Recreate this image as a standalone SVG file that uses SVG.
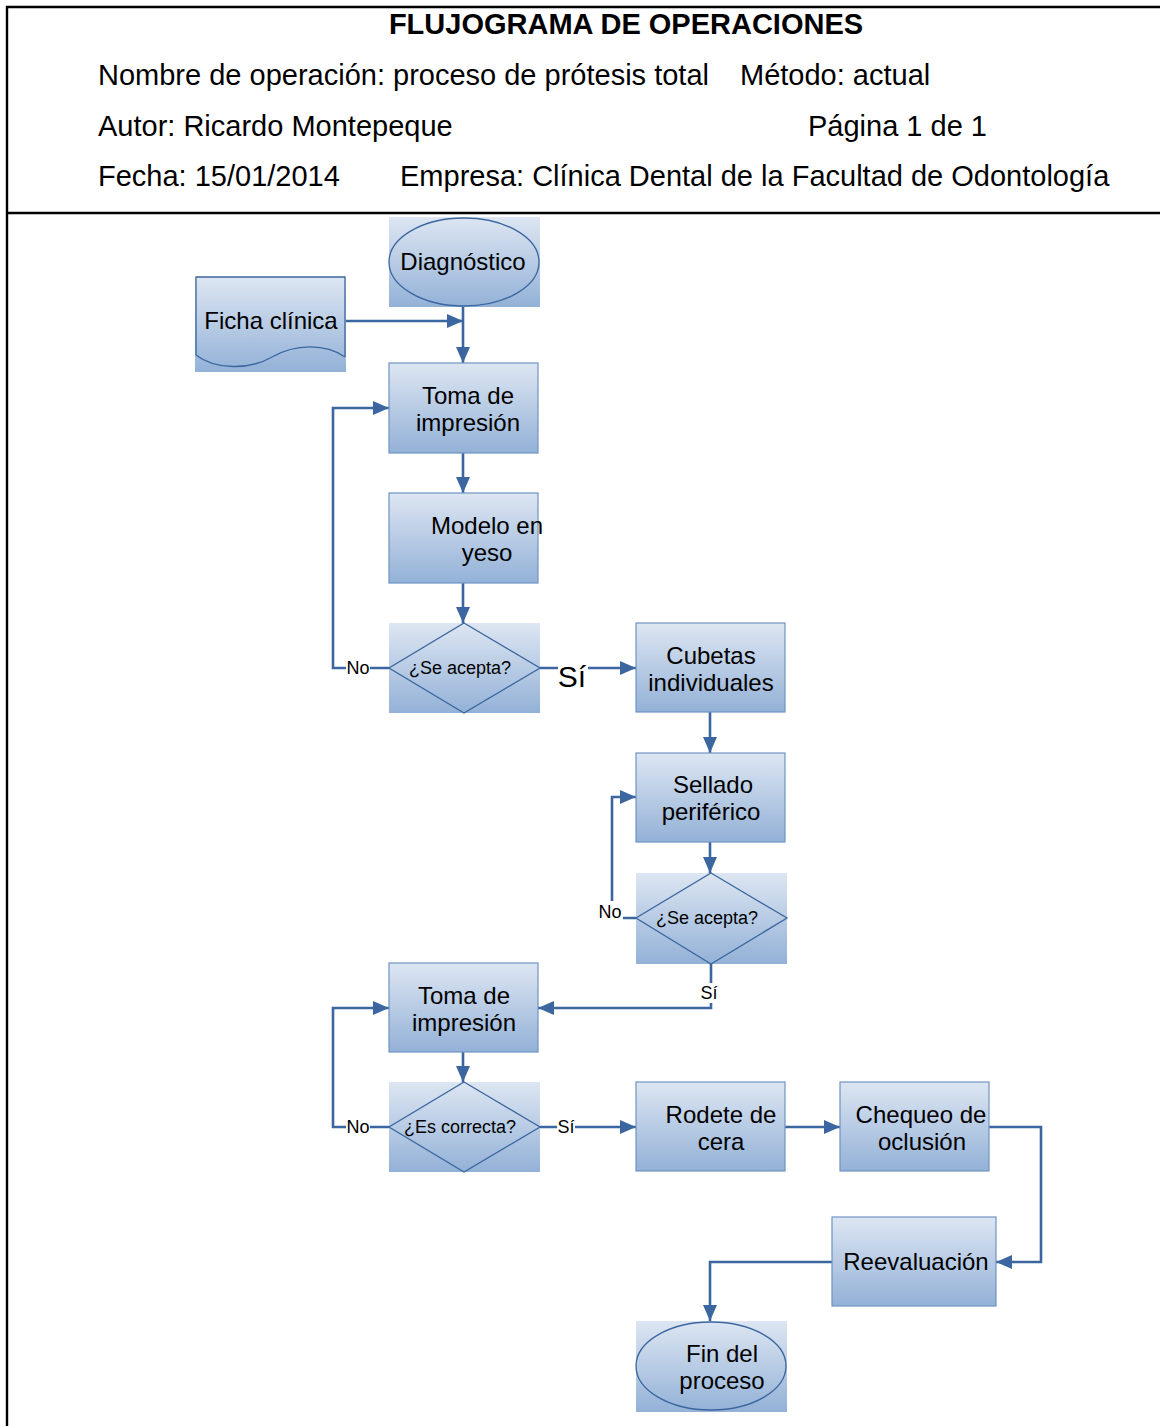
<svg xmlns="http://www.w3.org/2000/svg" width="1160" height="1426" viewBox="0 0 1160 1426">
  <defs>
    <linearGradient id="fillGrad" x1="0" y1="0" x2="0" y2="1">
      <stop offset="0" stop-color="#DDE6F2"/>
      <stop offset="1" stop-color="#93B1D7"/>
    </linearGradient>
    <marker id="arrow" viewBox="0 0 16 14" refX="16" refY="7" markerWidth="16" markerHeight="14" markerUnits="userSpaceOnUse" orient="auto">
      <path d="M0,0 L16,7 L0,14 Z" fill="#3B669F"/>
    </marker>
  </defs>
  <style>
    .box { fill: url(#fillGrad); stroke: #6F93C2; stroke-width: 1.2; }
    .bg { fill: url(#fillGrad); stroke: none; }
    .shape { fill: none; stroke: #3B669F; stroke-width: 1.3; }
    .conn { fill: none; stroke: #3B669F; stroke-width: 2.6; }
    .lbl { font-family: "Liberation Sans", Arial, sans-serif; font-size: 24px; fill: #000; text-anchor: middle; }
    .dlbl { font-family: "Liberation Sans", Arial, sans-serif; font-size: 18px; fill: #000; text-anchor: middle; }
    .clbl { font-family: "Liberation Sans", Arial, sans-serif; font-size: 18px; fill: #000; text-anchor: middle; }
    .head { font-family: "Liberation Sans", Arial, sans-serif; font-size: 29px; fill: #000; }
    .frame { stroke: #000; stroke-width: 2.4; fill: none; }
  </style>

  <!-- page frame and header -->
  <g id="header">
    <path class="frame" d="M7,1426 V7 H1160"/>
    <line class="frame" x1="7" y1="213" x2="1160" y2="213"/>
    <text x="626" y="34" text-anchor="middle" font-family="Liberation Sans, Arial, sans-serif" font-size="29" font-weight="bold">FLUJOGRAMA DE OPERACIONES</text>
    <text class="head" x="98" y="85">Nombre de operación: proceso de prótesis total</text>
    <text class="head" x="740" y="85">Método: actual</text>
    <text class="head" x="98" y="136">Autor: Ricardo Montepeque</text>
    <text class="head" x="808" y="136">Página 1 de 1</text>
    <text class="head" x="98" y="186">Fecha: 15/01/2014</text>
    <text class="head" x="400" y="186" font-size="29.2">Empresa: Clínica Dental de la Facultad de Odontología</text>
  </g>

  <!-- connectors -->
  <g id="connectors">
    <line class="conn" x1="463" y1="307" x2="463" y2="363" marker-end="url(#arrow)"/>
    <line class="conn" x1="345" y1="321" x2="463" y2="321" marker-end="url(#arrow)"/>
    <line class="conn" x1="463" y1="453" x2="463" y2="493" marker-end="url(#arrow)"/>
    <line class="conn" x1="463" y1="583" x2="463" y2="623" marker-end="url(#arrow)"/>
    <polyline class="conn" points="389,668 333,668 333,408 389,408" marker-end="url(#arrow)"/>
    <line class="conn" x1="540" y1="668" x2="636" y2="668" marker-end="url(#arrow)"/>
    <line class="conn" x1="710" y1="712" x2="710" y2="753" marker-end="url(#arrow)"/>
    <line class="conn" x1="710" y1="842" x2="710" y2="873" marker-end="url(#arrow)"/>
    <polyline class="conn" points="636,918 612,918 612,797 636,797" marker-end="url(#arrow)"/>
    <polyline class="conn" points="711,964 711,1008 538,1008" marker-end="url(#arrow)"/>
    <line class="conn" x1="463" y1="1052" x2="463" y2="1082" marker-end="url(#arrow)"/>
    <polyline class="conn" points="389,1127 333,1127 333,1008 389,1008" marker-end="url(#arrow)"/>
    <line class="conn" x1="540" y1="1127" x2="636" y2="1127" marker-end="url(#arrow)"/>
    <line class="conn" x1="785" y1="1127" x2="840" y2="1127" marker-end="url(#arrow)"/>
    <polyline class="conn" points="989,1127 1041,1127 1041,1262 996,1262" marker-end="url(#arrow)"/>
    <polyline class="conn" points="832,1262 710,1262 710,1321" marker-end="url(#arrow)"/>

    <!-- branch labels -->
    <rect x="346" y="659" width="24" height="18" fill="#fff"/>
    <text class="clbl" x="358" y="674">No</text>
    <rect x="558" y="656" width="30" height="30" fill="#fff"/>
    <text x="572" y="687" text-anchor="middle" font-family="Liberation Sans, Arial, sans-serif" font-size="30">Sí</text>
    <rect x="598" y="901" width="25" height="21" fill="#fff"/>
    <text class="clbl" x="610" y="918">No</text>
    <rect x="700" y="983" width="20" height="20" fill="#fff"/>
    <text class="clbl" x="709" y="999">Sí</text>
    <rect x="346" y="1118" width="24" height="18" fill="#fff"/>
    <text class="clbl" x="358" y="1133">No</text>
    <rect x="557" y="1118" width="18" height="18" fill="#fff"/>
    <text class="clbl" x="566" y="1133">Sí</text>
  </g>

  <!-- nodes -->
  <g id="diagnostico">
    <rect class="bg" x="389" y="217" width="151" height="90"/>
    <ellipse class="shape" cx="464" cy="262" rx="75" ry="44"/>
    <text class="lbl" x="463" y="270">Diagnóstico</text>
  </g>

  <g id="ficha-clinica">
    <rect class="bg" x="195" y="277" width="151" height="95"/>
    <path class="shape" d="M196,355 V277 H345 V357" stroke="#6F93C2"/>
    <path class="shape" d="M196,355 C215,370 250,370 272,357 C295,344 325,343 345,357"/>
    <text class="lbl" x="271" y="329">Ficha clínica</text>
  </g>

  <g id="toma-impresion-1">
    <rect class="box" x="389" y="363" width="149" height="90"/>
    <text class="lbl" x="468" y="404">Toma de</text>
    <text class="lbl" x="468" y="431">impresión</text>
  </g>

  <g id="modelo-yeso">
    <rect class="box" x="389" y="493" width="149" height="90"/>
    <text class="lbl" x="487" y="534">Modelo en</text>
    <text class="lbl" x="487" y="561">yeso</text>
  </g>

  <g id="decision-1">
    <rect class="bg" x="389" y="623" width="151" height="90"/>
    <polygon class="shape" points="464,623 540,668 464,713 389,668"/>
    <text class="dlbl" x="460" y="674">¿Se acepta?</text>
  </g>

  <g id="cubetas">
    <rect class="box" x="636" y="623" width="149" height="89"/>
    <text class="lbl" x="711" y="664">Cubetas</text>
    <text class="lbl" x="711" y="691">individuales</text>
  </g>

  <g id="sellado">
    <rect class="box" x="636" y="753" width="149" height="89"/>
    <text class="lbl" x="713" y="793">Sellado</text>
    <text class="lbl" x="711" y="820">periférico</text>
  </g>

  <g id="decision-2">
    <rect class="bg" x="636" y="873" width="151" height="91"/>
    <polygon class="shape" points="711,873 787,918 711,964 636,918"/>
    <text class="dlbl" x="707" y="924">¿Se acepta?</text>
  </g>

  <g id="toma-impresion-2">
    <rect class="box" x="389" y="963" width="149" height="89"/>
    <text class="lbl" x="464" y="1004">Toma de</text>
    <text class="lbl" x="464" y="1031">impresión</text>
  </g>

  <g id="decision-3">
    <rect class="bg" x="389" y="1082" width="151" height="90"/>
    <polygon class="shape" points="464,1082 540,1127 464,1172 389,1127"/>
    <text class="dlbl" x="460" y="1133">¿Es correcta?</text>
  </g>

  <g id="rodete">
    <rect class="box" x="636" y="1082" width="149" height="89"/>
    <text class="lbl" x="721" y="1123">Rodete de</text>
    <text class="lbl" x="721" y="1150">cera</text>
  </g>

  <g id="chequeo">
    <rect class="box" x="840" y="1082" width="149" height="89"/>
    <text class="lbl" x="921" y="1123">Chequeo de</text>
    <text class="lbl" x="922" y="1150">oclusión</text>
  </g>

  <g id="reevaluacion">
    <rect class="box" x="832" y="1217" width="164" height="89"/>
    <text class="lbl" x="916" y="1270">Reevaluación</text>
  </g>

  <g id="fin">
    <rect class="bg" x="636" y="1321" width="151" height="91"/>
    <ellipse class="shape" cx="711" cy="1366" rx="75" ry="44"/>
    <text class="lbl" x="722" y="1362">Fin del</text>
    <text class="lbl" x="722" y="1389">proceso</text>
  </g>
</svg>
